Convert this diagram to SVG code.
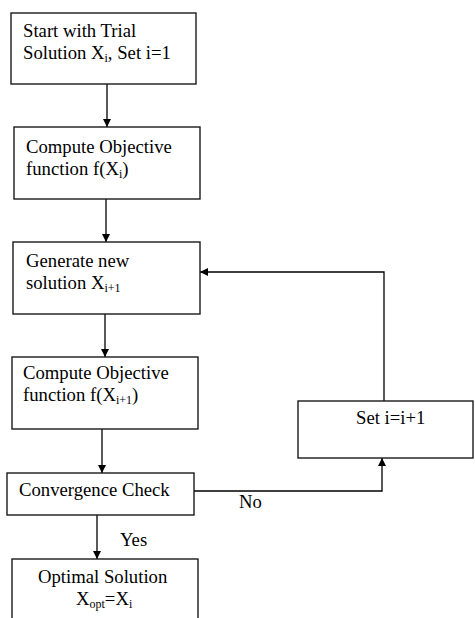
<svg xmlns="http://www.w3.org/2000/svg" width="475" height="618" viewBox="0 0 475 618">
  <defs>
    <style>
      .box { fill: #ffffff; stroke: #1a1a1a; stroke-width: 1.4; }
      .edge { fill: none; stroke: #000000; stroke-width: 1.3; }
      text { font-family: "Liberation Serif", "Times New Roman", serif; font-size: 18.7px; fill: #000000; }
      .sub { font-size: 12px; }
    </style>
    <marker id="arrow" viewBox="0 0 10 10" refX="10" refY="5" markerWidth="8" markerHeight="8" markerUnits="userSpaceOnUse" orient="auto">
      <path d="M0,0 L10,5 L0,10 Z" fill="#000000"/>
    </marker>
  </defs>
  <rect width="475" height="618" fill="#ffffff"/>

  <!-- connectors -->
  <g id="connectors">
    <line class="edge" x1="107" y1="84" x2="107" y2="127" marker-end="url(#arrow)"/>
    <line class="edge" x1="106" y1="199" x2="106" y2="242" marker-end="url(#arrow)"/>
    <line class="edge" x1="105" y1="314" x2="105" y2="357" marker-end="url(#arrow)"/>
    <line class="edge" x1="102" y1="429" x2="102" y2="473" marker-end="url(#arrow)"/>
    <line class="edge" x1="97" y1="515" x2="97" y2="559" marker-end="url(#arrow)"/>
    <polyline class="edge" points="194,491 382,491 382,458" marker-end="url(#arrow)"/>
    <polyline class="edge" points="384,401 384,272 200,272" marker-end="url(#arrow)"/>
    <text x="239" y="508">No</text>
    <text x="120" y="546">Yes</text>
  </g>

  <!-- nodes -->
  <g id="start">
    <rect class="box" x="11" y="13" width="185" height="71"/>
    <text x="23" y="37">Start with Trial</text>
    <text x="23" y="59">Solution X<tspan class="sub" dy="3">i</tspan><tspan dy="-3">, Set i=1</tspan></text>
  </g>

  <g id="objective">
    <rect class="box" x="14" y="127" width="186" height="72"/>
    <text x="26" y="153">Compute Objective</text>
    <text x="26" y="175">function f(X<tspan class="sub" dy="3">i</tspan><tspan dy="-3">)</tspan></text>
  </g>

  <g id="generate">
    <rect class="box" x="13" y="242" width="187" height="72"/>
    <text x="26" y="267">Generate new</text>
    <text x="26" y="289">solution X<tspan class="sub" dy="3">i+1</tspan></text>
  </g>

  <g id="objective-next">
    <rect class="box" x="12" y="357" width="186" height="72"/>
    <text x="23" y="379">Compute Objective</text>
    <text x="23" y="401">function f(X<tspan class="sub" dy="3">i+1</tspan><tspan dy="-3">)</tspan></text>
  </g>

  <g id="convergence">
    <rect class="box" x="7" y="473" width="187" height="42"/>
    <text x="19" y="496">Convergence Check</text>
  </g>

  <g id="increment">
    <rect class="box" x="298" y="401" width="175" height="57"/>
    <text x="356" y="424">Set i=i+1</text>
  </g>

  <g id="optimal">
    <rect class="box" x="12" y="559" width="186" height="70"/>
    <text x="38" y="583">Optimal Solution</text>
    <text x="76" y="605">X<tspan class="sub" dy="3">opt</tspan><tspan dy="-3">=X</tspan><tspan class="sub" dy="3">i</tspan></text>
  </g>
</svg>
